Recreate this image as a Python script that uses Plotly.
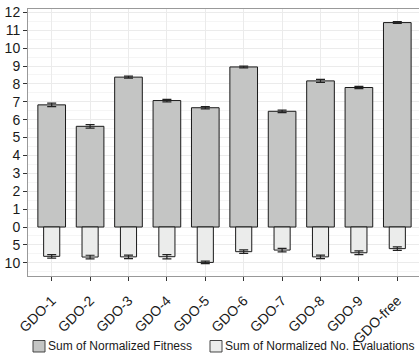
import plotly.graph_objects as go

# Per-variant results (mean and spread across runs)
variants = ["GDO-1", "GDO-2", "GDO-3", "GDO-4", "GDO-5",
            "GDO-6", "GDO-7", "GDO-8", "GDO-9", "GDO-free"]
fitness = [6.83, 5.63, 8.38, 7.07, 6.67, 8.95, 6.47, 8.17, 7.80, 11.43]
fitness_err = [0.10, 0.10, 0.06, 0.07, 0.06, 0.05, 0.07, 0.08, 0.06, 0.05]
evaluations = [8.2, 8.4, 8.35, 8.3, 9.9, 6.9, 6.45, 8.35, 7.2, 6.05]
evaluations_err = [0.5, 0.5, 0.5, 0.6, 0.35, 0.5, 0.5, 0.5, 0.5, 0.5]

# Evaluations hang below zero at a compressed scale (5 evaluations per unit)
EVAL_SCALE = 5.0
y_tickvals = [-2, -1, 0, 1, 2, 3, 4, 5, 6, 7, 8, 9, 10, 11, 12]
y_ticktext = ["10", "5", "0", "1", "2", "3", "4", "5", "6", "7", "8", "9", "10", "11", "12"]

series_names = ["Sum of Normalized Fitness", "Sum of Normalized No. Evaluations"]
series_colors = ["#c4c5c4", "#ebeceb"]

FONT = "Liberation Sans, Arial, sans-serif"
TEXT = "#1a1a1a"
xs = list(range(len(variants)))

fig = go.Figure()
fig.add_trace(go.Bar(
    x=xs, y=fitness, width=0.72,
    name=series_names[0], showlegend=False,
    marker=dict(color=series_colors[0], line=dict(color=TEXT, width=1)),
    error_y=dict(type="data", array=fitness_err, color="#222222",
                 thickness=1.2, width=4.5),
))
fig.add_trace(go.Bar(
    x=xs, y=[-v / EVAL_SCALE for v in evaluations], width=0.42,
    name=series_names[1], showlegend=False,
    marker=dict(color=series_colors[1], line=dict(color=TEXT, width=1)),
    error_y=dict(type="data", array=[e / EVAL_SCALE for e in evaluations_err],
                 color="#222222", thickness=1.2, width=4.5),
))

# Compact key below the axis: swatch immediately followed by its label
key_x = [0.0128, 0.4655]
key_w = 0.0307
key_y0, key_y1 = -0.2846, -0.2416
for kx, name, color in zip(key_x, series_names, series_colors):
    fig.add_shape(type="rect", xref="paper", yref="paper",
                  x0=kx, x1=kx + key_w, y0=key_y0, y1=key_y1,
                  fillcolor=color, line=dict(color="#444444", width=1))
    fig.add_annotation(xref="paper", yref="paper",
                       x=kx + key_w + 0.002, y=(key_y0 + key_y1) / 2,
                       xanchor="left", yanchor="middle", showarrow=False,
                       text=name, font=dict(family=FONT, size=12, color=TEXT))

fig.update_layout(
    width=419, height=364,
    margin=dict(l=28, r=0, t=9, b=88),
    paper_bgcolor="white", plot_bgcolor="white",
    barmode="overlay",
    font=dict(family=FONT, size=13, color=TEXT),
    showlegend=False,
    xaxis=dict(
        range=[-0.617, 9.565], automargin=False,
        tickmode="array", tickvals=xs, ticktext=variants,
        tickangle=-45, tickfont=dict(size=14, color=TEXT),
        ticklabelstandoff=6,
        ticks="outside", ticklen=4, tickcolor="#333333",
        showgrid=True, gridcolor="#ebebeb", gridwidth=1,
        showline=True, linecolor="#999999", linewidth=1, mirror=True,
        zeroline=False, fixedrange=True,
    ),
    yaxis=dict(
        range=[-2.74, 12.19], automargin=False,
        tickmode="array", tickvals=y_tickvals, ticktext=y_ticktext,
        tickfont=dict(size=14, color=TEXT),
        ticks="outside", ticklen=4, tickcolor="#333333",
        showgrid=True, gridcolor="#ebebeb", gridwidth=1,
        minor=dict(dtick=0.5, tick0=0, showgrid=True, gridcolor="#f5f5f5",
                   gridwidth=1, ticks=""),
        showline=True, linecolor="#999999", linewidth=1,
        zeroline=False, fixedrange=True,
    ),
)

fig.write_html("out.html")
